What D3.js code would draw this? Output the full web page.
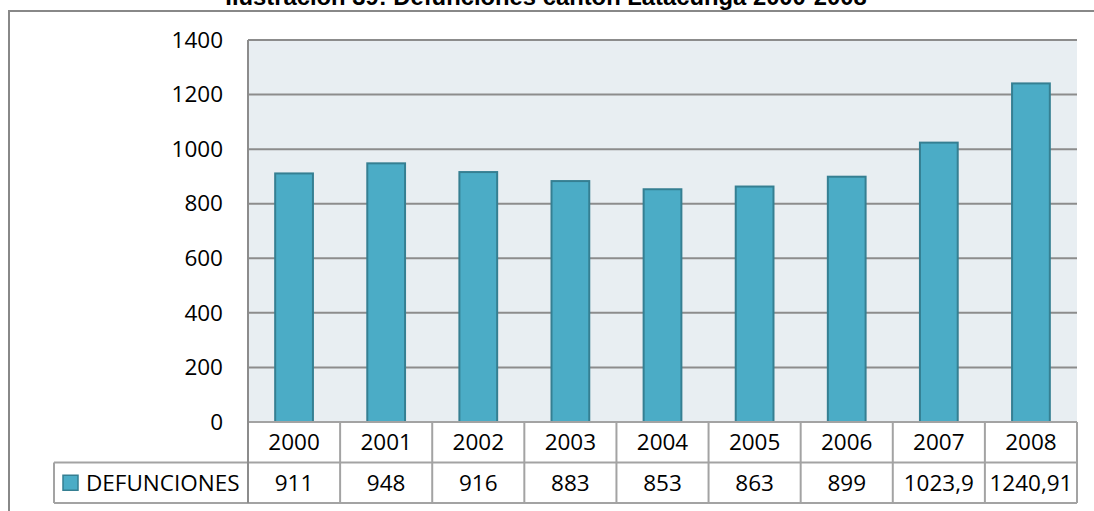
<!DOCTYPE html>
<html>
<head>
<meta charset="utf-8">
<script src="https://cdn.jsdelivr.net/npm/d3@7"></script>
<style>
  html, body { margin: 0; padding: 0; background: #fff; }
  svg { display: block; }
</style>
</head>
<body>
<svg id="chart" width="1094" height="511"></svg>
<script>
// Defunciones, cantón Latacunga, 2000-2008
const years = ["2000", "2001", "2002", "2003", "2004", "2005", "2006", "2007", "2008"];
const defunciones = [911, 948, 916, 883, 853, 863, 899, 1023.9, 1240.91];
const valueLabels = ["911", "948", "916", "883", "853", "863", "899", "1023,9", "1240,91"];
const yTicks = [0, 200, 400, 600, 800, 1000, 1200, 1400];
const seriesName = "DEFUNCIONES";
const title = "Ilustración 39: Defunciones cantón Latacunga 2000-2008";

const svg = d3.select("#chart");
const W = 1094, H = 511;

const plot = { left: 248, right: 1077, top: 40, bottom: 422 };
const rowH = 40.5;
const legendLeft = 54;

const fillBar = "#4BACC6";
const strokeBar = "#357F92";
const gridCol = "#8C8C8C";
const tableCol = "#A3A3A3";
const labelFont = "'Open Sans', 'DejaVu Sans', sans-serif";

// Title
svg.append("text")
  .attr("x", 546).attr("y", 5)
  .attr("text-anchor", "middle")
  .attr("font-family", "'Liberation Sans', Arial, sans-serif")
  .attr("font-weight", "bold")
  .attr("font-size", 23.8)
  .attr("fill", "#000")
  .text(title);

// Outer chart frame
svg.append("rect")
  .attr("x", 9).attr("y", 11)
  .attr("width", W + 20).attr("height", H + 20)
  .attr("fill", "none")
  .attr("stroke", "#888")
  .attr("stroke-width", 2);

const x = d3.scaleBand().domain(years).range([plot.left, plot.right]).paddingInner(0).paddingOuter(0);
const y = d3.scaleLinear().domain([0, 1400]).range([plot.bottom, plot.top]);

// Plot background
svg.append("rect")
  .attr("x", plot.left).attr("y", plot.top)
  .attr("width", plot.right - plot.left).attr("height", plot.bottom - plot.top)
  .attr("fill", "#E8EEF2");

// Gridlines
svg.append("g").selectAll("line")
  .data(yTicks.filter(d => d > 0))
  .join("line")
  .attr("x1", plot.left).attr("x2", plot.right)
  .attr("y1", d => y(d)).attr("y2", d => y(d))
  .attr("stroke", gridCol).attr("stroke-width", 2);

// Y axis labels
const yAxis = d3.axisLeft(y).tickValues(yTicks).tickSize(0).tickPadding(25).tickFormat(d3.format("d"));
const yg = svg.append("g").attr("transform", `translate(${plot.left},0)`).call(yAxis);
yg.select(".domain").remove();
yg.selectAll("text")
  .attr("font-family", labelFont)
  .attr("font-size", 22.5)
  .attr("fill", "#000");

// Bars
const barW = x.bandwidth() * 0.41;
svg.append("g").selectAll("rect")
  .data(years.map((yr, i) => ({ yr, v: defunciones[i] })))
  .join("rect")
  .attr("x", d => x(d.yr) + (x.bandwidth() - barW) / 2)
  .attr("y", d => y(d.v))
  .attr("width", barW)
  .attr("height", d => y(0) - y(d.v))
  .attr("fill", fillBar)
  .attr("stroke", strokeBar)
  .attr("stroke-width", 2);

// Data table under the plot
const row1 = plot.bottom, row2 = plot.bottom + rowH, row3 = plot.bottom + 2 * rowH;
const tg = svg.append("g").attr("stroke", tableCol).attr("stroke-width", 2);
tg.append("line").attr("x1", plot.left).attr("x2", plot.right).attr("y1", row1).attr("y2", row1);
tg.append("line").attr("x1", legendLeft).attr("x2", plot.right).attr("y1", row2).attr("y2", row2);
tg.append("line").attr("x1", legendLeft).attr("x2", plot.right).attr("y1", row3).attr("y2", row3);
tg.append("line").attr("x1", legendLeft).attr("x2", legendLeft).attr("y1", row2).attr("y2", row3);
tg.selectAll("line.col")
  .data(years.map(d => x(d) + x.bandwidth()))
  .join("line").attr("class", "col")
  .attr("x1", d => d).attr("x2", d => d)
  .attr("y1", row1).attr("y2", row3);

// Vertical axis line
svg.append("line")
  .attr("x1", plot.left).attr("x2", plot.left)
  .attr("y1", plot.top).attr("y2", row3)
  .attr("stroke", "#8C8C8C").attr("stroke-width", 2);

// Year labels
svg.append("g").selectAll("text")
  .data(years)
  .join("text")
  .attr("x", d => x(d) + x.bandwidth() / 2)
  .attr("y", (row1 + row2) / 2)
  .attr("dy", "0.36em")
  .attr("text-anchor", "middle")
  .attr("font-family", labelFont).attr("font-size", 22.5).attr("fill", "#000")
  .text(d => d);

// Value labels
svg.append("g").selectAll("text")
  .data(years.map((yr, i) => ({ yr, t: valueLabels[i] })))
  .join("text")
  .attr("x", d => x(d.yr) + x.bandwidth() / 2)
  .attr("y", (row2 + row3) / 2)
  .attr("dy", "0.36em")
  .attr("text-anchor", "middle")
  .attr("font-family", labelFont).attr("font-size", 22.5).attr("fill", "#000")
  .text(d => d.t);

// Legend key
svg.append("rect")
  .attr("x", 63).attr("y", (row2 + row3) / 2 - 7.5)
  .attr("width", 15).attr("height", 15)
  .attr("fill", fillBar).attr("stroke", strokeBar).attr("stroke-width", 1.5);
svg.append("text")
  .attr("x", 86).attr("y", (row2 + row3) / 2)
  .attr("dy", "0.36em")
  .attr("font-family", labelFont).attr("font-size", 22.5).attr("fill", "#000")
  .text(seriesName);
</script>
</body>
</html>
